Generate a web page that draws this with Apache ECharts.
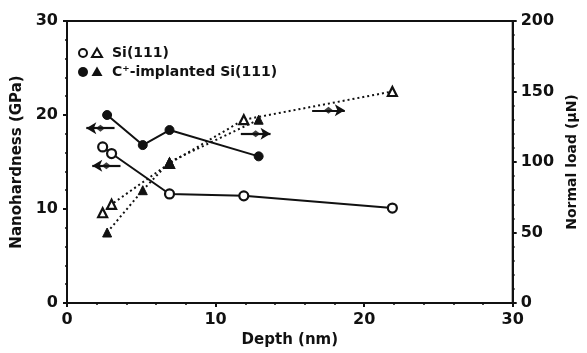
<!DOCTYPE html>
<html>
<head>
<meta charset="utf-8">
<script src="https://cdn.jsdelivr.net/npm/echarts@6/dist/echarts.min.js"></script>
<style>
  html, body { margin: 0; padding: 0; background: #fff; }
  #chart { width: 587px; height: 353px; }
</style>
</head>
<body>
<div id="chart"></div>
<script>
// Si(111): depth (nm), nanohardness (GPa), normal load (uN)
const siDepth = [2.4, 3.0, 6.9, 11.9, 21.9];
const siHardness = [16.6, 15.9, 11.6, 11.4, 10.1];
const siLoad = [64, 70, 99, 130, 150];

// C+-implanted Si(111)
const cDepth = [2.7, 5.1, 6.9, 12.9];
const cHardness = [20.0, 16.8, 18.4, 15.6];
const cLoad = [50, 80, 100, 130];

// Axis tick settings
const depthTicks = { min: 0, max: 30, interval: 10 };
const hardnessTicks = { min: 0, max: 30, interval: 10 };
const loadTicks = { min: 0, max: 200, interval: 50 };

// Arrows pointing to the axis each curve belongs to: [xStart, xEnd, y(GPa), direction]
const arrows = [
  [1.3, 3.2, 18.6, 'left'],
  [1.7, 3.6, 14.6, 'left'],
  [11.7, 13.7, 18.0, 'right'],
  [16.5, 18.7, 20.5, 'right']
];

const INK = '#111';
const FONT = 'DejaVu Sans';

const pairs = (xs, ys) => xs.map((x, i) => [x, ys[i]]);

const arrowLines = arrows.map(([x0, x1, y, dir]) => [
  { coord: [x0, y], symbol: dir === 'left' ? 'arrow' : 'none' },
  { coord: [x1, y], symbol: dir === 'right' ? 'arrow' : 'none' }
]);
const arrowKnots = arrows.map(([x0, x1, y]) => [(x0 + x1) / 2, y]);

const axisCommon = {
  axisLine: { show: true, lineStyle: { color: INK, width: 2 } },
  axisTick: { show: true, length: 4, lineStyle: { color: INK, width: 2 } },
  minorTick: { show: true, splitNumber: 5, length: 2, lineStyle: { color: INK, width: 1.5 } },
  splitLine: { show: false },
  axisLabel: { color: INK, fontFamily: FONT, fontWeight: 'bold', fontSize: 16 },
  nameTextStyle: { color: INK, fontFamily: FONT, fontWeight: 'bold', fontSize: 15 }
};

const chart = echarts.init(document.getElementById('chart'), null, { renderer: 'canvas' });

chart.setOption({
  backgroundColor: '#fff',
  animation: false,
  grid: {
    left: 67, right: 70, top: 21, bottom: 50,
    show: true, borderColor: INK, borderWidth: 2, backgroundColor: 'transparent'
  },
  xAxis: Object.assign({}, axisCommon, {
    type: 'value',
    min: depthTicks.min, max: depthTicks.max, interval: depthTicks.interval,
    name: 'Depth (nm)', nameLocation: 'middle', nameGap: 28,
    axisLabel: Object.assign({}, axisCommon.axisLabel, { margin: 9 })
  }),
  yAxis: [
    Object.assign({}, axisCommon, {
      type: 'value',
      min: hardnessTicks.min, max: hardnessTicks.max, interval: hardnessTicks.interval,
      name: 'Nanohardness (GPa)', nameLocation: 'middle', nameGap: 35, nameRotate: 90,
      axisLabel: Object.assign({}, axisCommon.axisLabel, { margin: 9 })
    }),
    Object.assign({}, axisCommon, {
      type: 'value', position: 'right',
      min: loadTicks.min, max: loadTicks.max, interval: loadTicks.interval,
      name: 'Normal load (\u03bcN)', nameLocation: 'middle', nameGap: 49, nameRotate: 90,
      nameTextStyle: Object.assign({}, axisCommon.nameTextStyle, { fontSize: 14 }),
      axisLabel: Object.assign({}, axisCommon.axisLabel, { margin: 8 })
    })
  ],
  series: [
    {
      name: 'Si(111) hardness', type: 'line', yAxisIndex: 0,
      data: pairs(siDepth, siHardness),
      symbol: 'circle', symbolSize: 9,
      itemStyle: { color: '#fff', borderColor: INK, borderWidth: 2.2 },
      lineStyle: { color: INK, width: 2 }, z: 3
    },
    {
      name: 'C-implanted hardness', type: 'line', yAxisIndex: 0,
      data: pairs(cDepth, cHardness),
      symbol: 'circle', symbolSize: 9,
      itemStyle: { color: INK, borderColor: INK, borderWidth: 1 },
      lineStyle: { color: INK, width: 2 }, z: 3,
      markLine: {
        silent: true, symbolSize: [9, 10],
        label: { show: false },
        lineStyle: { color: INK, width: 2.2, type: 'solid' },
        data: arrowLines
      }
    },
    {
      name: 'Si(111) load', type: 'line', yAxisIndex: 1,
      data: pairs(siDepth, siLoad),
      symbol: 'triangle', symbolSize: 9,
      itemStyle: { color: '#fff', borderColor: INK, borderWidth: 2.2 },
      lineStyle: { color: INK, width: 2, type: [2, 3] }, z: 2
    },
    {
      name: 'C-implanted load', type: 'line', yAxisIndex: 1,
      data: pairs(cDepth, cLoad),
      symbol: 'triangle', symbolSize: 9,
      itemStyle: { color: INK, borderColor: INK, borderWidth: 1 },
      lineStyle: { color: INK, width: 2, type: [2, 3] }, z: 2
    },
    {
      name: 'arrow knots', type: 'scatter', yAxisIndex: 0,
      data: arrowKnots, symbol: 'diamond', symbolSize: [9, 7],
      itemStyle: { color: INK }, silent: true, z: 4
    }
  ],
  graphic: [
    {
      type: 'group', left: 78, top: 46,
      children: [
        { type: 'circle', shape: { cx: 5, cy: 6, r: 4 }, style: { fill: '#fff', stroke: INK, lineWidth: 2 } },
        { type: 'polygon', shape: { points: [[19, 1.5], [24, 10], [14, 10]] }, style: { fill: '#fff', stroke: INK, lineWidth: 2 } },
        { type: 'text', x: 34, y: -1, style: { text: 'Si(111)', fill: INK, font: 'bold 14px "DejaVu Sans"' } },
        { type: 'circle', shape: { cx: 5, cy: 25, r: 5 }, style: { fill: INK } },
        { type: 'polygon', shape: { points: [[19, 19.5], [24.5, 29], [13.5, 29]] }, style: { fill: INK } },
        { type: 'text', x: 34, y: 18, style: { text: 'C\u207a-implanted Si(111)', fill: INK, font: 'bold 14px "DejaVu Sans"' } }
      ]
    }
  ]
});
</script>
</body>
</html>
